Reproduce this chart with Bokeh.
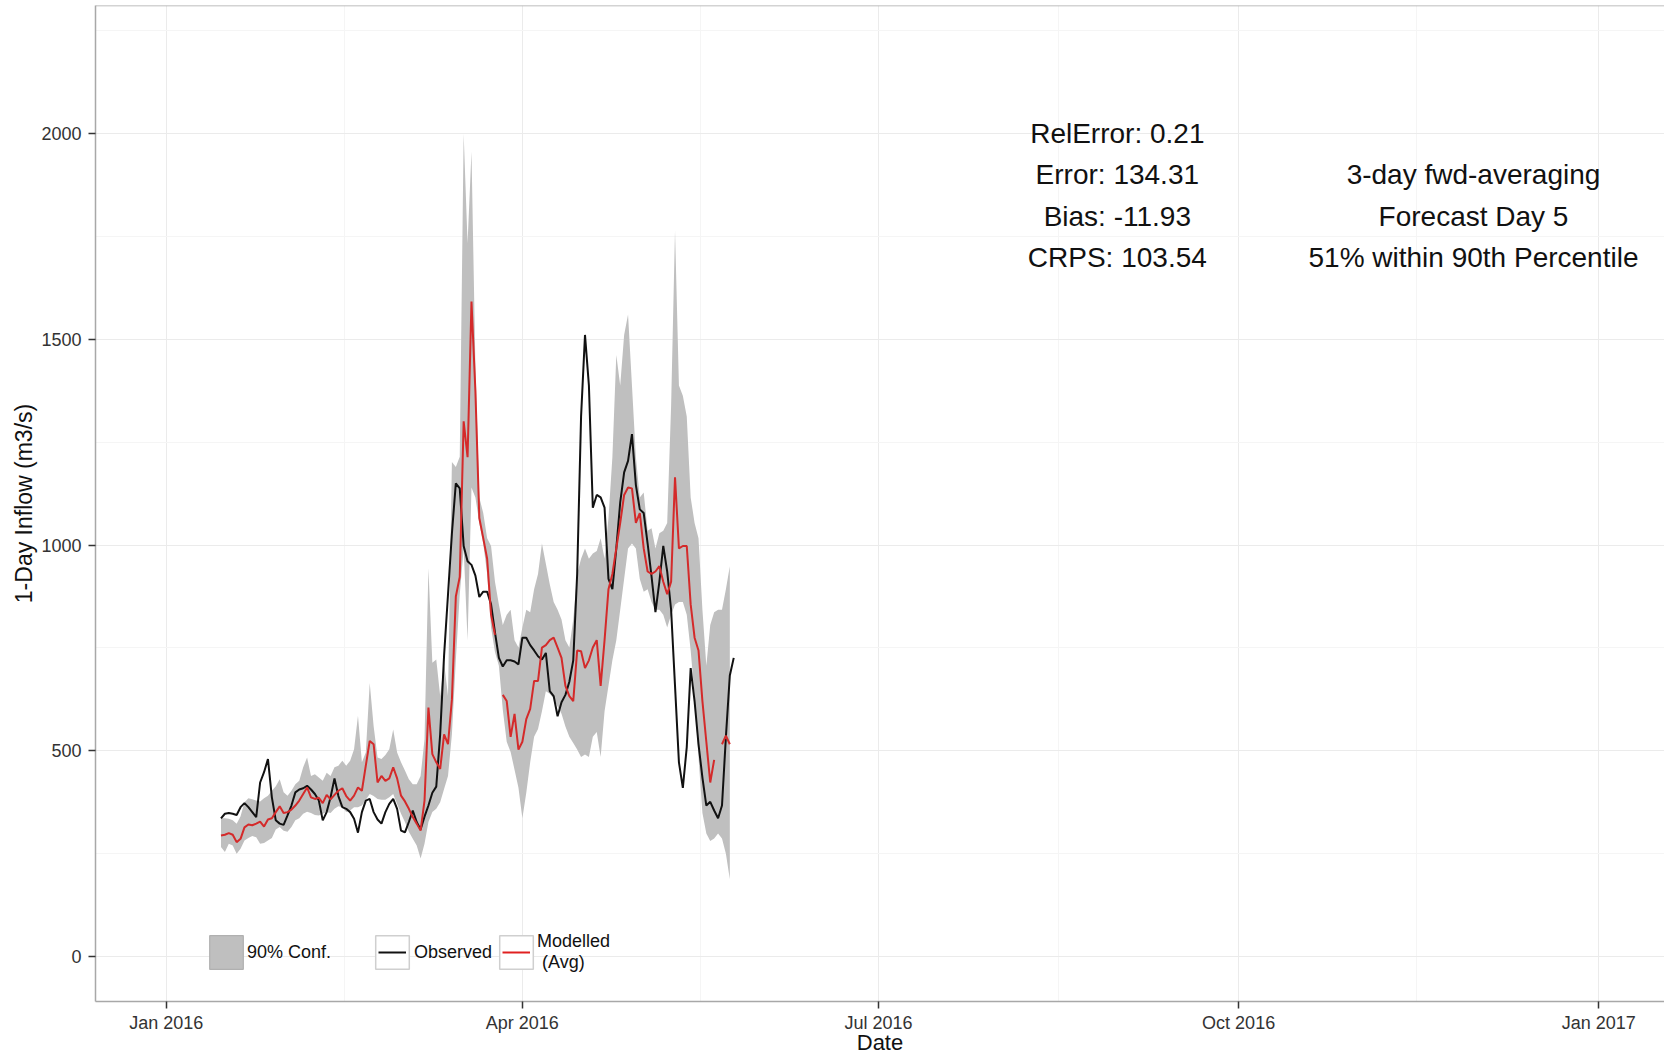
import pandas as pd
from bokeh.plotting import figure
from bokeh.models import (Range1d, FixedTicker, DatetimeTickFormatter, Legend,
                          LegendItem, Label, Span, ColumnDataSource)
from bokeh.embed import file_html
from bokeh.resources import INLINE

nan = float("nan")

# ---------------- data (daily, starting 2016-01-15) ----------------
start_date = "2016-01-15"

observed = [336, 347, 349, 347, 344, 363, 373, 363, 351, 339,
            423, 448, 480, 387, 331, 323, 320, 343, 367, 399,
            406, 409, 415, 406, 395, 379, 331, 351, 387, 433,
            390, 363, 359, 351, 335, 301, 351, 379, 383, 351,
            333, 323, 351, 371, 383, 359, 306, 302, 327, 355,
            327, 309, 340, 367, 398, 413, 540, 732, 880, 1029,
            1150, 1138, 998, 961, 952, 926, 874, 887, 887, 856,
            788, 726, 705, 720, 720, 717, 710, 775, 775, 757,
            744, 730, 722, 738, 645, 633, 584, 618, 636, 668,
            720, 930, 1313, 1511, 1388, 1091, 1122, 1116, 1091, 918,
            893, 992, 1104, 1177, 1205, 1270, 1146, 1087, 1078, 1004,
            924, 837, 911, 998, 936, 843, 658, 472, 410, 509,
            701, 620, 516, 435, 367, 376, 355, 336, 367, 534,
            683, 726]

modelled = [294, 296, 300, 296, 278, 286, 314, 321, 319, 323,
            328, 316, 333, 336, 351, 365, 349, 351, 357, 367,
            379, 395, 411, 387, 383, 386, 373, 393, 382, 393,
            403, 409, 390, 379, 391, 411, 403, 464, 524, 516,
            423, 439, 427, 433, 460, 433, 391, 377, 359, 339,
            323, 306, 379, 605, 492, 472, 456, 540, 516, 625,
            875, 923, 1301, 1214, 1592, 1375, 1066, 1017, 967, 831,
            782, nan, 636, 621, 534, 590, 503, 522, 577, 602,
            670, 670, 751, 757, 769, 775, 751, 726, 658, 633,
            621, 744, 742, 701, 720, 751, 769, 658, 769, 893,
            930, 992, 1054, 1122, 1140, 1138, 1054, 1078, 992, 936,
            930, 936, 949, 911, 881, 911, 1165, 992, 998, 998,
            856, 775, 744, 621, 522, 423, 478, nan, 516, 537,
            516, nan]

conf_upper = [336, 336, 335, 331, 323, 341, 375, 385, 382, 379,
              377, 385, 391, 403, 414, 431, 399, 391, 403, 419,
              427, 460, 484, 439, 443, 435, 427, 447, 439, 460,
              464, 476, 464, 476, 504, 585, 472, 496, 665, 560,
              484, 480, 490, 504, 552, 496, 472, 452, 431, 419,
              419, 439, 528, 944, 714, 722, 633, 714, 633, 1202,
              1190, 1215, 2000, 1734, 1957, 1437, 1116, 1078, 1017, 998,
              911, 856, 806, 831, 843, 769, 751, 800, 843, 837,
              893, 930, 1004, 955, 905, 862, 843, 819, 769, 751,
              819, 930, 967, 992, 967, 980, 986, 1017, 967, 1066,
              1214, 1462, 1388, 1511, 1561, 1388, 1214, 1116, 1128, 1035,
              1041, 992, 1029, 1035, 1054, 1338, 1765, 1388, 1363, 1313,
              1116, 1054, 1017, 843, 707, 806, 837, 843, 843, 893,
              949]

conf_lower = [266, 254, 274, 270, 250, 262, 282, 288, 293, 290,
              274, 276, 282, 288, 309, 315, 306, 303, 315, 331,
              336, 347, 352, 349, 344, 343, 347, 351, 349, 359,
              365, 363, 351, 355, 363, 363, 367, 381, 395, 390,
              383, 381, 381, 387, 395, 371, 347, 327, 303, 286,
              270, 238, 274, 327, 351, 359, 375, 407, 439, 540,
              720, 880, 992, 769, 1140, 1116, 1054, 1004, 930, 800,
              740, 707, 600, 522, 497, 454, 410, 336, 398, 472,
              534, 553, 596, 645, 639, 627, 608, 590, 559, 534,
              519, 503, 485, 491, 485, 534, 546, 485, 596, 658,
              720, 769, 843, 918, 992, 1004, 992, 918, 887, 893,
              862, 843, 843, 831, 800, 831, 856, 862, 862, 831,
              744, 633, 485, 349, 299, 281, 287, 299, 287, 250,
              188]

x_tick_dates = ["2016-01-01", "2016-04-01", "2016-07-01", "2016-10-01", "2017-01-01"]
x_minor_dates = ["2016-02-15 12:00", "2016-05-16 12:00", "2016-08-16", "2016-11-15 12:00"]
y_ticks = [0, 500, 1000, 1500, 2000]
y_minor = [250, 750, 1250, 1750, 2250]

stats_left = ["RelError: 0.21", "Error: 134.31", "Bias: -11.93", "CRPS: 103.54"]
stats_right = ["3-day fwd-averaging", "Forecast Day 5", "51% within 90th Percentile"]

# ---------------- helpers ----------------
def ms(t):
    return pd.Timestamp(t).value // 10**6

dates = pd.date_range(start_date, periods=len(observed), freq="D")
band_dates = dates[:len(conf_upper)]

FONT = "Liberation Sans"
BORDER = "#a8a8a8"

x0 = pd.Timestamp("2016-01-01")
x_start = x0 + pd.Timedelta(days=-18.06)
x_end = x0 + pd.Timedelta(days=382.8)
y_start, y_end = -109.4, 2311.9

p = figure(width=1664, height=1057, x_axis_type="datetime",
           x_range=Range1d(x_start, x_end), y_range=Range1d(y_start, y_end),
           output_backend="svg", toolbar_location=None,
           min_border_left=95, min_border_right=0, min_border_top=5,
           min_border_bottom=56)
p.outline_line_color = None
p.background_fill_color = "white"
p.border_fill_color = "white"

# band + lines
band_src = ColumnDataSource(dict(date=band_dates, lower=conf_lower, upper=conf_upper))
line_src = ColumnDataSource(dict(date=dates, obs=observed, mod=modelled))

p.varea(x="date", y1="lower", y2="upper", source=band_src, fill_color="#bfbfbf", fill_alpha=1.0)
p.line(x="date", y="obs", source=line_src, line_color="#111111", line_width=2)
p.line(x="date", y="mod", source=line_src, line_color="#d42a2a", line_width=2)

# axes
p.xaxis.ticker = FixedTicker(ticks=[ms(d) for d in x_tick_dates],
                             minor_ticks=[ms(d) for d in x_minor_dates])
fmt = "%b %Y"
p.xaxis.formatter = DatetimeTickFormatter(years=fmt, months=fmt, days=fmt, hours=fmt,
                                          minutes=fmt, seconds=fmt, milliseconds=fmt,
                                          microseconds=fmt, hourmin=fmt, minsec=fmt)
p.yaxis.ticker = FixedTicker(ticks=y_ticks, minor_ticks=y_minor)

for ax in (p.xaxis, p.yaxis):
    ax.axis_line_color = BORDER
    ax.axis_line_width = 1.5
    ax.major_tick_line_color = "#333333"
    ax.major_tick_line_width = 1.5
    ax.major_tick_in = 0
    ax.major_tick_out = 7
    ax.minor_tick_line_color = None
    ax.major_label_text_font = FONT
    ax.major_label_text_font_size = "18px"
    ax.major_label_text_color = "#333333"
    ax.axis_label_text_font = FONT
    ax.axis_label_text_font_size = "23px"
    ax.axis_label_text_font_style = "normal"
    ax.axis_label_text_color = "#111111"

p.xaxis.axis_label = "Date"
p.xaxis.axis_label_text_font_size = "22px"
p.xaxis.major_label_standoff = 4
p.xaxis.axis_label_standoff = -6
p.yaxis.axis_label = "1-Day Inflow (m3/s)"
p.yaxis.major_label_standoff = 7
p.yaxis.axis_label_standoff = 1

p.xgrid.grid_line_color = "#ebebeb"
p.ygrid.grid_line_color = "#ebebeb"
p.xgrid.minor_grid_line_color = "#f5f5f5"
p.ygrid.minor_grid_line_color = "#f5f5f5"

p.add_layout(Span(location=y_end, dimension="width", line_color=BORDER, line_width=1.5))

# statistics text
for i, t in enumerate(stats_left):
    p.add_layout(Label(x=ms("2016-08-31"), y=2000 - 100 * i, text=t, text_align="center",
                       text_baseline="middle", text_font=FONT, text_font_size="28px",
                       text_color="#111111"))
for i, t in enumerate(stats_right):
    p.add_layout(Label(x=ms("2016-11-30"), y=1900 - 100 * i, text=t, text_align="center",
                       text_baseline="middle", text_font=FONT, text_font_size="28px",
                       text_color="#111111"))

# legend (ggplot-like keys); dummy renderers hold a single NaN so nothing is drawn in the plot
box_conf = p.rect(x=[nan], y=[nan], width=1, height=1, fill_color="#bfbfbf",
                  line_color="#b0b0b0", line_width=1.2)
box_white = p.rect(x=[nan], y=[nan], width=1, height=1, fill_color="white",
                   line_color="#cfcfcf", line_width=1.5)
key_obs = p.line(x=[nan, nan], y=[nan, nan], line_color="#111111", line_width=2)
key_mod = p.line(x=[nan, nan], y=[nan, nan], line_color="#e02020", line_width=2)

def add_legend(label, rend, loc, gw, gh, standoff=0):
    lg = Legend(items=[LegendItem(label=label, renderers=[rend])], location=loc,
                orientation="horizontal", glyph_width=gw, glyph_height=gh,
                padding=0, margin=0, spacing=0, label_standoff=standoff,
                label_text_font=FONT, label_text_font_size="18px",
                label_text_color="#111111", label_text_line_height=1.0,
                background_fill_alpha=0, border_line_alpha=0,
                label_height=18, label_width=10)
    p.add_layout(lg)

add_legend("90% Conf.", box_conf, (110, 28), 42, 42, 0)
add_legend("Observed", box_white, (276, 28), 42, 42, 1)
add_legend("Modelled\n (Avg)", box_white, (400, 28), 42, 42, 0)
add_legend(" ", key_obs, (283, 32), 28, 34, 0)
add_legend(" ", key_mod, (407, 32), 28, 34, 0)

open("out.html", "w").write(file_html(p, INLINE))
